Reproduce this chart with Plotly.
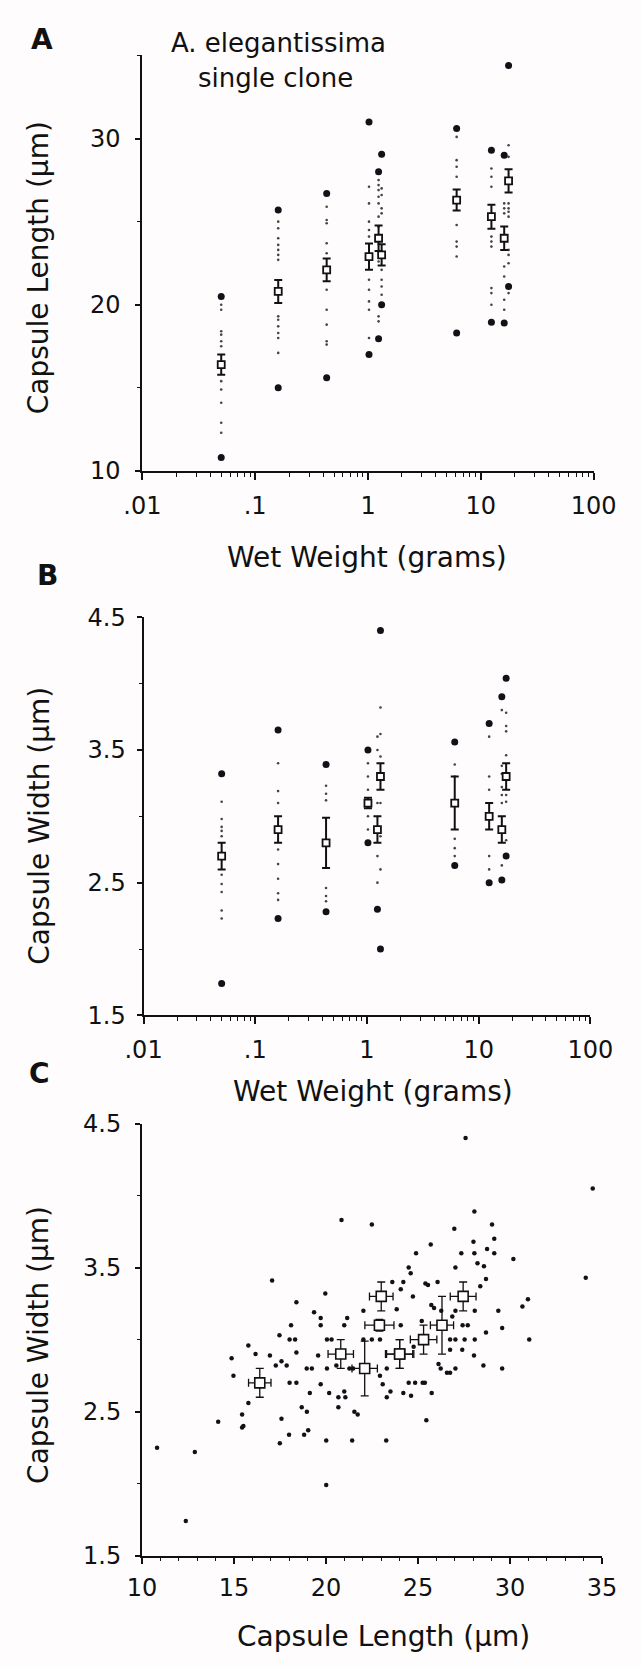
import plotly.graph_objects as go

FIG_W, FIG_H = 641, 1668
FONT = "DejaVu Sans"
INK = "#111111"


def px(x):
    return x / FIG_W


def py(y):
    return 1 - y / FIG_H


# ---- colony means (one entry per anemone) ----
weight_g = [0.05, 0.16, 0.43, 1.02, 1.24, 1.32, 6.1, 12.4, 16.1, 17.6]
length_mean = [16.4, 20.8, 22.1, 22.9, 24.0, 23.0, 26.3, 25.3, 24.0, 27.45]
length_se = [0.61, 0.69, 0.69, 0.79, 0.77, 0.64, 0.63, 0.72, 0.71, 0.70]
width_mean = [2.70, 2.90, 2.80, 3.10, 2.90, 3.30, 3.10, 3.00, 2.90, 3.30]
width_se = [0.10, 0.10, 0.19, 0.04, 0.10, 0.10, 0.20, 0.10, 0.10, 0.10]

# ---- range of individual capsules per anemone ----
length_max = [20.5, 25.7, 26.7, 31.0, 28.0, 29.05, 30.6, 29.3, 29.0, 34.4]
length_min = [10.8, 15.0, 15.6, 17.0, 17.95, 20.0, 18.3, 18.95, 18.9, 21.1]
width_max = [3.32, 3.65, 3.39, 3.50, None, 4.40, 3.56, 3.70, 3.90, 4.04]
width_min = [1.74, 2.23, 2.28, 2.80, 2.30, 2.00, 2.63, 2.50, 2.52, 2.70]

# ---- remaining individual capsule measurements ----
length_values = [
    [20.0, 19.7, 18.4, 18.2, 17.8, 17.5, 15.4, 14.9, 14.1, 12.9, 12.3],
    [25.0, 24.6, 24.0, 23.6, 23.3, 23.0, 22.7, 19.3, 19.1, 18.7, 18.3, 18.0, 17.1],
    [25.9, 25.1, 24.9, 23.7, 23.1, 20.9, 19.7, 18.8, 17.8, 17.6],
    [27.1, 26.1, 25.0, 24.5, 24.1, 21.5, 20.9, 20.2, 19.7, 18.0],
    [27.5, 27.2, 26.9, 26.5, 26.1, 25.3, 24.7, 22.6, 19.3, 19.0],
    [27.0, 26.6, 25.8, 25.5, 22.1, 21.5, 21.1, 20.6],
    [30.1, 28.7, 28.3, 27.7, 24.8, 23.8, 23.5, 22.9],
    [28.2, 27.7, 27.1, 24.1, 23.8, 23.5, 21.0, 20.7, 20.0],
    [26.1, 25.8, 25.5, 22.3, 21.7, 20.3, 19.7],
    [29.6, 28.9, 26.1, 25.8, 25.6, 25.3, 23.3, 23.0, 22.5, 20.7],
]
width_values = [
    [3.11, 2.98, 2.92, 2.89, 2.85, 2.56, 2.49, 2.43, 2.29, 2.23],
    [3.40, 3.19, 3.10, 2.75, 2.64, 2.53, 2.42, 2.37],
    [3.23, 3.17, 3.12, 2.46, 2.40, 2.36],
    [3.40, 3.30, 3.20, 3.00, 2.90],
    [3.60, 3.50, 3.10, 2.70, 2.50],
    [3.82, 3.62, 3.45, 3.10, 2.85, 2.60],
    [3.39, 3.30, 2.83, 2.76, 2.70],
    [3.60, 3.30, 3.20, 2.70, 2.60],
    [3.80, 3.38, 3.32, 3.22, 3.16, 3.10, 2.63],
    [3.78, 3.68, 3.64, 3.46, 3.16, 3.11, 2.82],
]

# ---- paired capsule length / width (panel C) ----
cap_length = [
    20.84, 22.49, 17.07, 19.96, 18.39, 19.35, 19.71, 19.71, 18.10, 21.15, 20.99, 22.03,
    17.47, 18.02, 18.32, 20.05, 20.30, 22.03, 22.49, 15.78, 16.17, 14.87, 16.95, 18.39,
    19.57, 17.27, 17.58, 17.86, 20.56, 18.95, 19.23, 20.05, 21.27, 21.47, 14.97, 18.02,
    18.39, 19.71, 19.12, 20.17, 20.99, 20.67, 21.05, 15.78, 20.67, 18.68, 18.96, 21.54,
    21.72, 15.44, 15.51, 15.44, 14.14, 17.58, 19.03, 18.81, 17.99, 17.49, 20.01, 21.42,
    10.82, 12.87, 20.01, 12.38,
    27.58, 34.49, 28.06, 26.97, 29.02, 29.14, 25.69, 28.01, 24.89, 27.35, 28.06, 28.75,
    29.14, 30.18, 28.23, 28.58, 27.03, 24.49, 24.60, 28.69, 34.11, 23.60, 24.20, 25.40,
    25.54, 26.06, 28.38, 24.06, 24.72, 30.97, 30.67, 25.72, 25.87, 23.84, 29.57, 29.36,
    28.08, 27.03, 26.26, 26.86, 28.69, 31.04, 27.42, 27.70, 24.06, 25.20, 24.76, 26.74,
    27.03, 27.53, 28.08, 22.93, 26.74, 27.40, 28.04, 26.11, 26.23, 26.57, 26.74, 27.03,
    28.55, 29.57, 22.93, 23.30, 23.08, 23.50, 23.30, 24.20, 24.62, 24.49, 24.84, 25.25,
    25.37, 25.74, 25.45, 23.27,
]
cap_width = [
    3.83, 3.80, 3.41, 3.32, 3.26, 3.19, 3.15, 3.10, 3.10, 3.15, 3.10, 3.20,
    3.03, 3.00, 3.00, 3.00, 3.00, 3.00, 3.00, 2.96, 2.90, 2.87, 2.89, 2.91,
    2.89, 2.82, 2.85, 2.82, 2.82, 2.80, 2.80, 2.80, 2.80, 2.80, 2.75, 2.70,
    2.70, 2.69, 2.63, 2.63, 2.64, 2.60, 2.60, 2.56, 2.53, 2.53, 2.50, 2.50,
    2.48, 2.48, 2.40, 2.39, 2.43, 2.45, 2.37, 2.34, 2.34, 2.28, 2.30, 2.30,
    2.25, 2.22, 1.99, 1.74,
    4.40, 4.05, 3.89, 3.77, 3.80, 3.70, 3.66, 3.68, 3.60, 3.60, 3.60, 3.63,
    3.60, 3.56, 3.53, 3.51, 3.50, 3.50, 3.46, 3.42, 3.43, 3.40, 3.40, 3.39,
    3.38, 3.40, 3.37, 3.35, 3.30, 3.28, 3.23, 3.24, 3.22, 3.21, 3.08, 3.20,
    3.20, 3.20, 3.20, 3.16, 3.05, 3.00, 3.10, 3.10, 3.10, 3.13, 2.95, 3.00,
    3.00, 3.00, 3.00, 3.00, 2.93, 2.93, 2.89, 2.83, 2.80, 2.77, 2.77, 2.80,
    2.82, 2.80, 2.75, 2.80, 2.69, 2.64, 2.60, 2.63, 2.61, 2.70, 2.70, 2.70,
    2.70, 2.63, 2.44, 2.30,
]

# ---- axis labelling ----
weight_ticks = [0.01, 0.1, 1, 10, 100]
weight_ticktext = [".01", ".1", "1", "10", "100"]
length_ticks = [10, 20, 30]
width_ticks = [1.5, 2.5, 3.5, 4.5]
width_ticktext = ["1.5", "2.5", "3.5", "4.5"]
clen_ticks = [10, 15, 20, 25, 30, 35]

fig = go.Figure()


def flat(groups, xs):
    ox, oy = [], []
    for x, vals in zip(xs, groups):
        for v in vals:
            ox.append(x)
            oy.append(v)
    return ox, oy


def extremes(hi, lo, xs):
    ox, oy = [], []
    for x, a, b in zip(xs, hi, lo):
        for v in (a, b):
            if v is not None:
                ox.append(x)
                oy.append(v)
    return ox, oy


def panel_traces(values, hi, lo, mean, se, xa, ya):
    sx, sy = flat(values, weight_g)
    fig.add_trace(go.Scatter(
        x=sx, y=sy, mode="markers", xaxis=xa, yaxis=ya,
        marker=dict(size=2.6, color="#444444"), hoverinfo="skip"))
    ex, ey = extremes(hi, lo, weight_g)
    fig.add_trace(go.Scatter(
        x=ex, y=ey, mode="markers", xaxis=xa, yaxis=ya,
        marker=dict(size=7, color="#141018")))
    fig.add_trace(go.Scatter(
        x=weight_g, y=mean, mode="markers", xaxis=xa, yaxis=ya,
        error_y=dict(type="data", array=se, color=INK, thickness=2, width=4),
        marker=dict(symbol="square", size=7, color="white",
                    line=dict(color=INK, width=1.8))))


panel_traces(length_values, length_max, length_min, length_mean, length_se, "x", "y")
panel_traces(width_values, width_max, width_min, width_mean, width_se, "x2", "y2")

# panel C: individual capsules and anemone means
fig.add_trace(go.Scatter(
    x=cap_length, y=cap_width, mode="markers", xaxis="x3", yaxis="y3",
    marker=dict(size=4.5, color="#150f18")))
fig.add_trace(go.Scatter(
    x=length_mean, y=width_mean, mode="markers", xaxis="x3", yaxis="y3",
    error_x=dict(type="data", array=length_se, color=INK, thickness=1.3, width=4),
    error_y=dict(type="data", array=width_se, color=INK, thickness=1.3, width=4),
    marker=dict(symbol="square", size=10, color="white",
                line=dict(color=INK, width=1.6))))

tickfont = dict(family=FONT, size=24, color=INK)
axis_common = dict(
    showline=True, linecolor=INK, linewidth=2, ticks="outside",
    tickcolor=INK, tickwidth=1.5, showgrid=False, zeroline=False,
    tickfont=tickfont, fixedrange=True,
)

log_minor = [m * 10 ** e for e in range(-2, 2) for m in range(2, 10)]


def weight_axis(x0, x1, anchor):
    return dict(
        axis_common, type="log", range=[-2, 2], domain=[px(x0), px(x1)],
        anchor=anchor, tickmode="array", tickvals=weight_ticks,
        ticktext=weight_ticktext, ticklen=7, ticklabelstandoff=5,
        minor=dict(tickmode="array", tickvals=log_minor, ticks="outside",
                   ticklen=4, tickcolor=INK, tickwidth=1),
    )


fig.update_layout(
    width=FIG_W, height=FIG_H,
    margin=dict(l=0, r=0, t=0, b=0),
    paper_bgcolor="#fefcfc", plot_bgcolor="#fefcfc",
    showlegend=False,
    xaxis=weight_axis(132, 615, "y"),
    yaxis=dict(
        axis_common, range=[10, 35], domain=[py(464.7), py(42.2)], anchor="x",
        tickmode="array", tickvals=length_ticks, ticklen=5, ticklabelstandoff=10,
        minor=dict(tickmode="array", tickvals=[15, 25, 35], ticks="outside",
                   ticklen=3, tickcolor=INK, tickwidth=1)),
    xaxis2=weight_axis(133.3, 611.5, "y2"),
    yaxis2=dict(
        axis_common, range=[1.5, 4.5], domain=[py(1018.5), py(613.5)], anchor="x2",
        tickmode="array", tickvals=width_ticks, ticktext=width_ticktext,
        ticklen=5, ticklabelstandoff=6,
        minor=dict(tickmode="array", tickvals=[2, 3, 4], ticks="outside",
                   ticklen=3, tickcolor=INK, tickwidth=1)),
    xaxis3=dict(
        axis_common, range=[10, 35], domain=[px(131.6), px(624)], anchor="y3",
        tickmode="array", tickvals=clen_ticks, ticklen=6, ticklabelstandoff=4,
        minor=dict(dtick=1, tick0=10, ticks="outside", ticklen=3,
                   tickcolor=INK, tickwidth=1)),
    yaxis3=dict(
        axis_common, range=[1.5, 4.5], domain=[py(1568), py(1128.5)], anchor="x3",
        tickmode="array", tickvals=width_ticks, ticktext=width_ticktext,
        ticklen=5, ticklabelstandoff=9,
        minor=dict(tickmode="array", tickvals=[2, 3, 4], ticks="outside",
                   ticklen=3, tickcolor=INK, tickwidth=1)),
)

title_font = dict(family=FONT, size=28, color=INK)
letter_font = dict(family="DejaVu Sans", size=28, color=INK, weight="bold")
note_font = dict(family=FONT, size=26, color=INK)


def label(text, x, y, font, angle=0):
    fig.add_annotation(text=text, x=px(x), y=py(y), xref="paper", yref="paper",
                       showarrow=False, font=font, textangle=angle,
                       xanchor="center", yanchor="middle")


label("<b>A</b>", 25, 26, letter_font)
label("<b>B</b>", 31, 571, letter_font)
label("<b>C</b>", 22, 1078, letter_font)

label("A. elegantissima", 278, 30, note_font)
label("single clone", 275, 65, note_font)

label("Capsule Length (µm)", 21, 258, title_font, -90)
label("Capsule Width (µm)", 22, 826, title_font, -90)
label("Capsule Width (µm)", 21, 1354, title_font, -90)

label("Wet Weight (grams)", 372, 553, title_font)
label("Wet Weight (grams)", 379, 1096, title_font)
label("Capsule Length (µm)", 390, 1650, title_font)

fig.write_html("out.html")
